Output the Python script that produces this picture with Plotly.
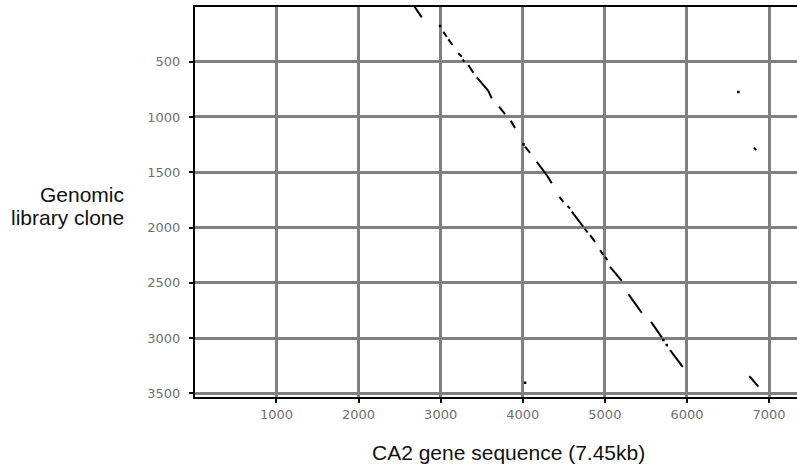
import plotly.graph_objects as go

# Dot-plot segments (CA2 gene position vs genomic clone position)
seg_x_start = [2680, 3033, 3094, 3216, 3269, 3337, 3440, 3581, 3711, 3854, 4028, 4170, 4292,
               4446, 4543, 4597, 4755, 4820, 4942, 5002, 5063, 5286, 5563, 5794, 6760, 6815]
seg_y_start = [0, 229, 298, 424, 479, 530, 641, 763, 907, 1034, 1269, 1405, 1525,
               1722, 1806, 1857, 2010, 2068, 2204, 2265, 2355, 2602, 2853, 3109, 3344, 1278]
seg_x_end = [2770, 3074, 3143, 3257, 3285, 3398, 3581, 3622, 3784, 3906, 4089, 4292, 4353,
             4494, 4576, 4738, 4790, 4881, 4982, 5031, 5206, 5449, 5693, 5949, 6870, 6845]
seg_y_end = [99, 274, 349, 455, 500, 600, 763, 831, 973, 1100, 1324, 1525, 1600,
             1767, 1827, 1993, 2045, 2129, 2249, 2294, 2482, 2771, 2994, 3260, 3440, 1300]

# isolated matches
dot_x = [2993, 5712, 5754, 6626, 4028, 4010]
dot_y = [177, 3018, 3063, 774, 3404, 1248]

x_tickvals = [1000, 2000, 3000, 4000, 5000, 6000, 7000]
y_tickvals = [500, 1000, 1500, 2000, 2500, 3000, 3500]
x_title = "CA2 gene sequence (7.45kb)"
y_title_lines = ["Genomic", "library clone"]

lx, ly = [], []
for a, b, c, d in zip(seg_x_start, seg_y_start, seg_x_end, seg_y_end):
    lx += [a, c, None]
    ly += [b, d, None]

fig = go.Figure()
fig.add_trace(go.Scatter(x=lx, y=ly, mode="lines",
                         line=dict(color="black", width=2), hoverinfo="skip",
                         showlegend=False))
fig.add_trace(go.Scatter(x=dot_x, y=dot_y, mode="markers",
                         marker=dict(color="black", size=2.5, symbol="square",
                                     line=dict(width=0)),
                         hoverinfo="skip", showlegend=False))

tick_font = dict(family="DejaVu Sans", size=13, color="#707070")

fig.update_layout(
    width=797, height=470,
    margin=dict(l=195, r=0, t=7, b=73),
    paper_bgcolor="white", plot_bgcolor="white",
    xaxis=dict(range=[8, 7340], tickvals=x_tickvals,
               ticktext=[str(v) for v in x_tickvals],
               showgrid=True, gridcolor="#808080", gridwidth=2.5,
               zeroline=False, showline=True, linecolor="black", linewidth=2,
               mirror=True, ticks="outside", ticklen=4, tickwidth=2,
               tickcolor="black", tickfont=tick_font),
    yaxis=dict(range=[3533, 5], tickvals=y_tickvals,
               ticktext=[str(v) for v in y_tickvals],
               showgrid=True, gridcolor="#808080", gridwidth=2.5,
               zeroline=False, showline=True, linecolor="black", linewidth=2,
               ticks="outside", ticklen=4, tickwidth=2, tickcolor="black",
               tickfont=tick_font, ticklabelstandoff=6),
    showlegend=False,
)

title_font = dict(family="Liberation Sans, Arial", size=21, color="#111111")
fig.add_annotation(text=x_title, xref="paper", yref="paper", x=0.521, y=-0.143,
                   xanchor="center", yanchor="middle", showarrow=False,
                   font=title_font)
fig.add_annotation(text=y_title_lines[0], xref="paper", yref="paper",
                   x=(126 - 195) / 602, y=(397 - 195) / 390,
                   xanchor="right", yanchor="middle", showarrow=False,
                   font=title_font)
fig.add_annotation(text=y_title_lines[1], xref="paper", yref="paper",
                   x=(126 - 195) / 602, y=(397 - 217) / 390,
                   xanchor="right", yanchor="middle", showarrow=False,
                   font=title_font)

fig.write_html("out.html")
